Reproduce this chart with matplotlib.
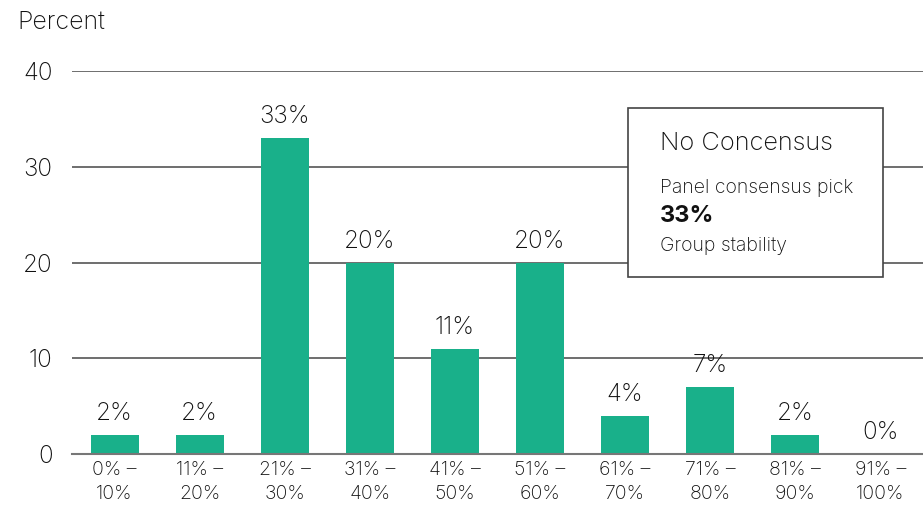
import matplotlib.pyplot as plt
from matplotlib.patches import Rectangle

plt.rcParams['font.family'] = ['Inter', 'DejaVu Sans']
plt.rcParams['font.weight'] = 'light'

categories = ['0% –\n10%', '11% –\n20%', '21% –\n30%', '31% –\n40%', '41% –\n50%',
              '51% –\n60%', '61% –\n70%', '71% –\n80%', '81% –\n90%', '91% –\n100%']
shares = [2, 2, 33, 20, 11, 20, 4, 7, 2, 0]
y_ticks = [0, 10, 20, 30, 40]

bar_color = '#19b08a'
text_color = '#111111'

fig = plt.figure(figsize=(9.23, 5.05), dpi=100)
ax = fig.add_axes([72 / 923, 51 / 505, 851 / 923, 383 / 505])

x = list(range(len(categories)))
ax.bar(x, shares, width=0.565, color=bar_color, zorder=3)
for xi, v in zip(x, shares):
    ax.text(xi, v + 1.0, f'{v}%', ha='center', va='bottom', fontsize=17.5, color=text_color)

ax.set_xlim(-0.5, 9.5)
ax.set_ylim(0, 40)
ax.set_yticks(y_ticks)
ax.set_xticks(x)
ax.set_xticklabels(categories, fontsize=14, color=text_color, linespacing=1.4)
ax.tick_params(axis='y', length=0, pad=14, labelsize=17.5, labelcolor=text_color)
ax.tick_params(axis='x', length=0, pad=5)
ax.yaxis.grid(True, color='#555555', linewidth=1.2, zorder=0)
for side in ['top', 'right', 'left']:
    ax.spines[side].set_visible(False)
ax.spines['bottom'].set_color('#777777')
ax.spines['bottom'].set_linewidth(1.5)
ax.spines['bottom'].set_zorder(4)

fig.text(17 / 923, 1 - 22 / 505, 'Percent', fontsize=18, color=text_color, va='center')

# info box in the upper right
box = Rectangle((628 / 923, 1 - 277 / 505), 255 / 923, 169 / 505, transform=fig.transFigure,
                facecolor='white', edgecolor='#444444', linewidth=1.2, zorder=5)
fig.patches.append(box)
fig.text(660 / 923, 1 - 143 / 505, 'No Concensus', fontsize=18.3, color=text_color, va='center', zorder=6)
fig.text(660 / 923, 1 - 188 / 505, 'Panel consensus pick', fontsize=14, color=text_color, va='center', zorder=6)
fig.text(660 / 923, 1 - 216 / 505, '33%', fontsize=17, fontweight='bold', color='#111111', va='center', zorder=6)
fig.text(660 / 923, 1 - 246 / 505, 'Group stability', fontsize=14, color=text_color, va='center', zorder=6)

fig.savefig('out.png', dpi=100)
